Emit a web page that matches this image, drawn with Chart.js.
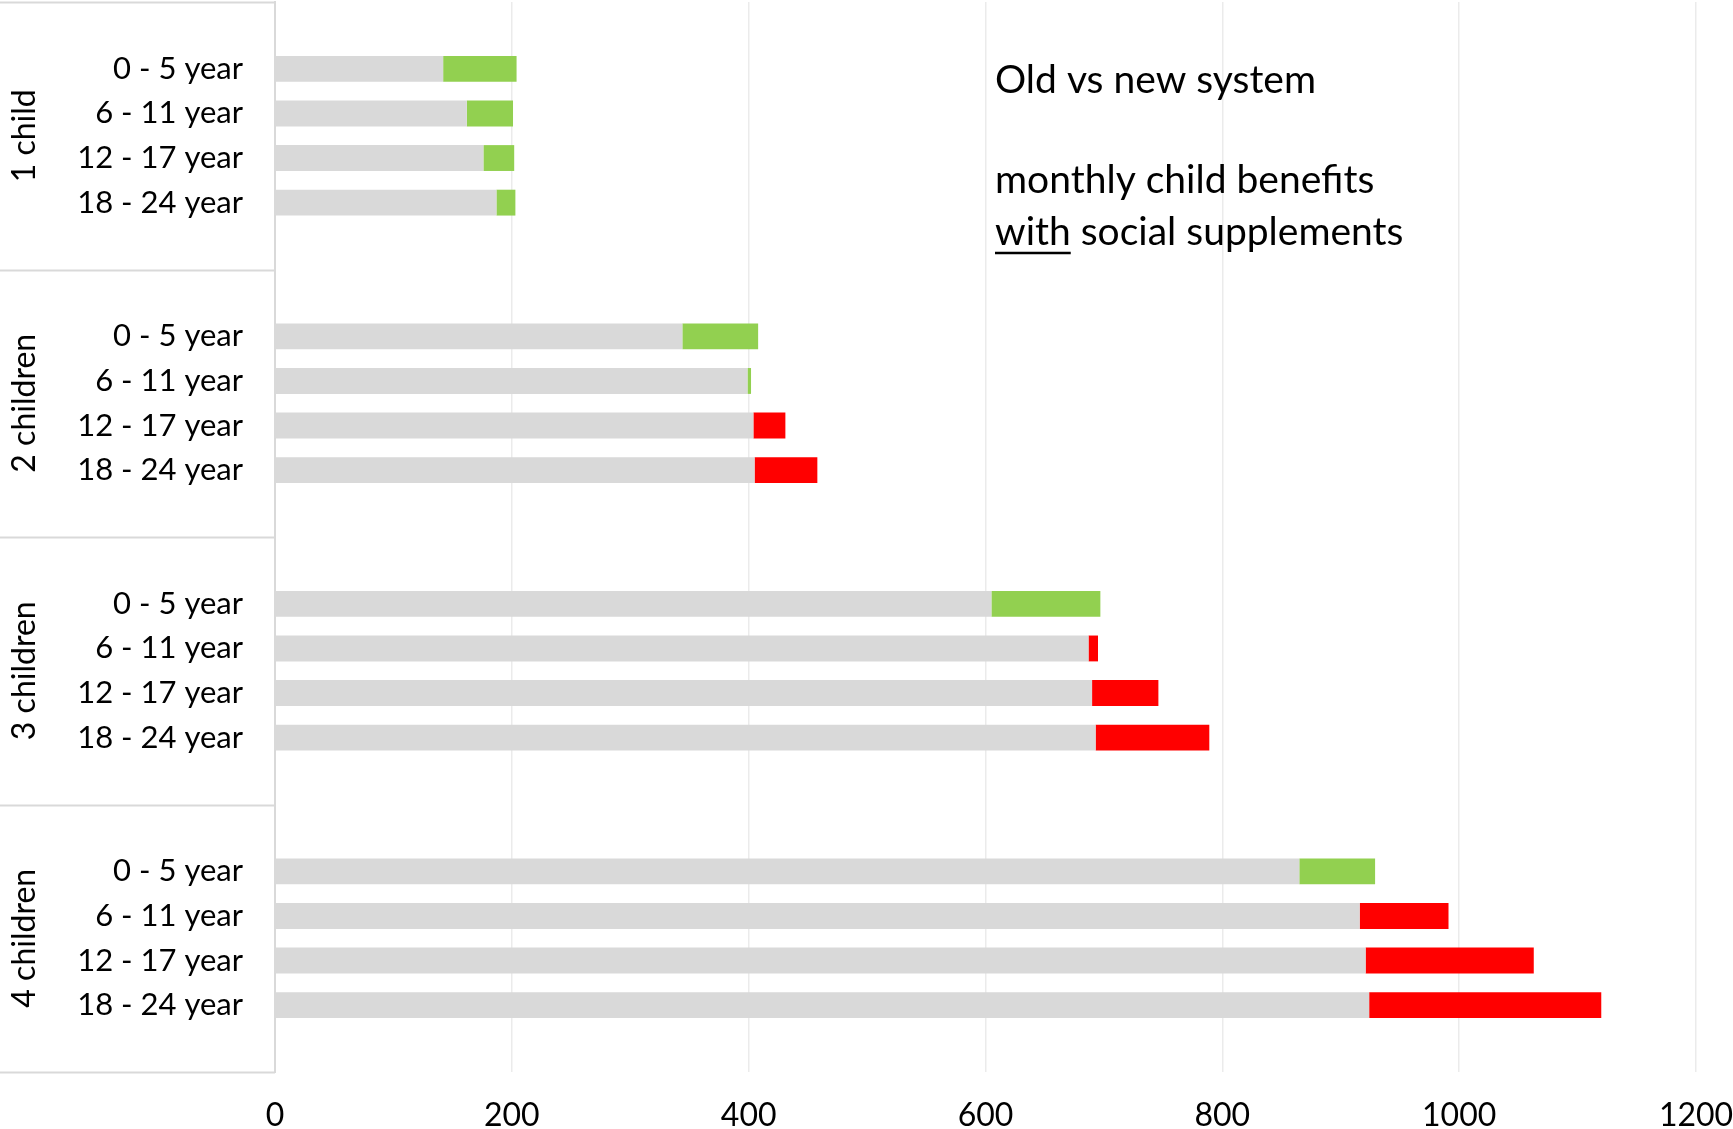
<!DOCTYPE html>
<html>
<head>
<meta charset="utf-8">
<script src="https://cdn.jsdelivr.net/npm/chart.js"></script>
<style>
  body { margin: 0; background: #fff; }
  #wrap { width: 1733px; height: 1129px; }
</style>
</head>
<body>
<div id="wrap"><canvas id="benefitsChart" width="1733" height="1129"></canvas></div>
<script>
// groups and age bands
const groupLabels = ['1 child', '2 children', '3 children', '4 children'];
const ageLabels = ['0 - 5 year', '6 - 11 year', '12 - 17 year', '18 - 24 year'];

// grey = common part, green = gain with new system, red = loss with new system
const greyBase = [142, 162, 176, 187, 344, 399, 404, 405, 605, 687, 690, 693, 865, 916, 921, 924];
const greenUp  = [62, 39, 26, 16, 64, 3, 0, 0, 92, 0, 0, 0, 64, 0, 0, 0];
const redDown  = [0, 0, 0, 0, 0, 0, 27, 53, 0, 8, 56, 96, 0, 75, 142, 196];

const xTicks = [0, 200, 400, 600, 800, 1000, 1200];

const FONT = 'Lato, "Open Sans", sans-serif';

// each group gets an empty slot above and below its 4 bars
function padGroups(arr, blank) {
    const out = [];
    groupLabels.forEach((g, gi) => {
        out.push(blank);
        for (let i = 0; i < ageLabels.length; i++) out.push(arr[gi * ageLabels.length + i]);
        out.push(blank);
    });
    return out;
}

const allAgeLabels = [];
groupLabels.forEach(() => ageLabels.forEach(a => allAgeLabels.push(a)));

const labels = padGroups(allAgeLabels, '');

// left panel (group labels + separators) and the text box
const sidePanel = {
    id: 'sidePanel',
    afterDraw(chart) {
        const ctx = chart.ctx;
        const y = chart.scales.y;
        const area = chart.chartArea;
        ctx.save();
        ctx.strokeStyle = '#d9d9d9';
        ctx.lineWidth = 2;
        for (let g = 0; g <= groupLabels.length; g++) {
            const py = Math.round(y.getPixelForValue(g * 6 - 0.5)) + 0.5;
            ctx.beginPath();
            ctx.moveTo(0, py);
            ctx.lineTo(area.left, py);
            ctx.stroke();
        }
        ctx.fillStyle = '#000';
        ctx.font = '32px ' + FONT;
        ctx.textAlign = 'center';
        ctx.textBaseline = 'middle';
        groupLabels.forEach((g, gi) => {
            const cy = y.getPixelForValue(gi * 6 + 2.5);
            ctx.save();
            ctx.translate(25, cy);
            ctx.rotate(-Math.PI / 2);
            ctx.fillText(g, 0, 0);
            ctx.restore();
        });

        // annotation
        ctx.textAlign = 'left';
        ctx.font = '39px ' + FONT;
        const tx = 995;
        ctx.fillText('Old vs new system', tx, 80);
        ctx.fillText('monthly child benefits', tx, 180);
        ctx.fillText('with social supplements', tx, 232);
        const w = ctx.measureText('with').width;
        ctx.lineWidth = 2.5;
        ctx.strokeStyle = '#000';
        ctx.beginPath();
        ctx.moveTo(tx, 253);
        ctx.lineTo(tx + w, 253);
        ctx.stroke();
        ctx.restore();
    }
};

new Chart(document.getElementById('benefitsChart'), {
    type: 'bar',
    data: {
        labels: labels,
        datasets: [
            { label: 'base', data: padGroups(greyBase, null), backgroundColor: '#d9d9d9' },
            { label: 'gain', data: padGroups(greenUp, null), backgroundColor: '#92d050' },
            { label: 'loss', data: padGroups(redDown, null), backgroundColor: '#ff0000' }
        ]
    },
    options: {
        indexAxis: 'y',
        responsive: false,
        animation: false,
        layout: { padding: { top: 2, right: 37, bottom: 0, left: 0 } },
        datasets: { bar: { barPercentage: 0.58, categoryPercentage: 1 } },
        plugins: { legend: { display: false }, tooltip: { enabled: false } },
        scales: {
            x: {
                stacked: true,
                min: 0,
                max: 1200,
                afterBuildTicks: scale => { scale.ticks = xTicks.map(v => ({ value: v })); },
                afterFit: scale => { scale.height = 57; scale.paddingLeft = 0; scale.paddingRight = 0; },
                grid: { color: '#ebebeb', lineWidth: 1.5, drawTicks: false },
                border: { display: false },
                ticks: { color: '#000', padding: 24, callback: v => String(v), font: { size: 32, family: FONT } }
            },
            y: {
                stacked: true,
                afterFit: scale => { scale.width = 275; scale.paddingTop = 0; scale.paddingBottom = 0; },
                grid: { display: false },
                border: { display: true, color: '#d9d9d9', width: 2 },
                ticks: { color: '#000', padding: 24, autoSkip: false, font: { size: 31, family: FONT } }
            }
        }
    },
    plugins: [sidePanel]
});
</script>
</body>
</html>
